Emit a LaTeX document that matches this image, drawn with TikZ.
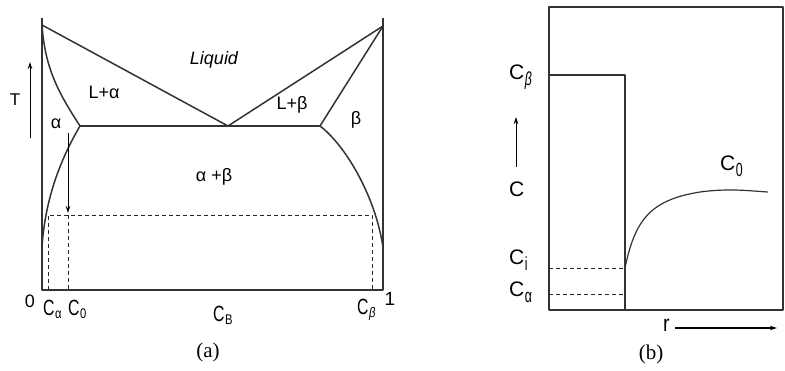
\documentclass[tikz,border=0pt]{standalone}
\usepackage{fontspec}
\setmainfont{Liberation Sans}
\newfontfamily\serifcap{Liberation Serif}
\usepackage{graphicx}
\usetikzlibrary{arrows.meta}
\newcommand{\Cna}[1]{\scalebox{0.72}[1]{C}\kern0.6pt\raisebox{-3pt}{\fontsize{14}{14}\selectfont\scalebox{0.8}[1]{#1}}}
\newcommand{\Cnb}[1]{C\kern0.6pt\raisebox{-6pt}{\fontsize{19}{19}\selectfont\scalebox{0.65}[1]{#1}}}
\begin{document}
\begin{tikzpicture}[x=1pt,y=-1pt,line join=round,
  main/.style={line width=1.5pt,draw=black!80},
  dashline/.style={line width=0.8pt,dash pattern=on 4pt off 3pt,draw=black!85},
  lbl/.style={inner sep=0pt,font=\fontsize{18}{18}\selectfont},
  cla/.style={inner sep=0pt,anchor=base west,font=\fontsize{22}{22}\selectfont},
  clb/.style={inner sep=0pt,anchor=base west,font=\fontsize{21}{21}\selectfont},
  captxt/.style={inner sep=0pt,font=\fontsize{21}{21}\selectfont\serifcap},
  arr/.style={line width=0.9pt,draw=black,-{Stealth[length=7pt,width=4.5pt]}}]
\useasboundingbox (0,0) rectangle (785,371);
% ---------- panel (a) ----------
\coordinate (aTL) at (42,18);
\coordinate (aBL) at (42,290);
\coordinate (aBR) at (383,290);
\coordinate (aTR) at (383,18);
\coordinate (mA) at (42,25);
\coordinate (mB) at (383,26);
\coordinate (E) at (228,126);
\coordinate (aE) at (80,126);
\coordinate (bE) at (320,126);
\coordinate (sa) at (42,247);
\coordinate (sb) at (383,247);
\draw[main] (aTL) -- (aBL) -- (aBR) -- (aTR);
\draw[main] (mA) -- (E) -- (mB);
\draw[main] (aE) -- (bE);
\draw[main] (mA) .. controls (45,70) and (60,95) .. (aE)
                 .. controls (60,160) and (45,200) .. (sa);
\draw[main] (mB) -- (bE) .. controls (345,145) and (375,195) .. (sb);
\coordinate (d1b) at (48,290);
\coordinate (d1t) at (48,215);
\coordinate (d2b) at (68,290);
\coordinate (d2t) at (68,215);
\coordinate (d3t) at (372,215);
\coordinate (d3b) at (372,290);
\draw[dashline] (d1b) -- (d1t) -- (d3t) -- (d3b);
\draw[dashline] (d2t) -- (d2b);
\coordinate (cool0) at (68,133);
\coordinate (cool1) at (68,213);
\draw[arr] (cool0) -- (cool1);
\coordinate (Tb) at (30,138);
\coordinate (Tt) at (30,62);
\draw[arr] (Tb) -- (Tt);
\node[lbl,font=\fontsize{17}{17}\selectfont] (T) at (15,100) {T};
\node[lbl,font=\fontsize{18}{18}\selectfont\itshape] (liq) at (214,60) {Liquid};
\node[lbl] (La) at (104,92) {L+α};
\node[lbl] (Lb) at (292,105) {L+β};
\node[lbl] (beta) at (356,120) {β};
\node[lbl] (alpha) at (56,124) {α};
\node[lbl] (ab) at (214,177) {α +β};
\node[lbl,font=\fontsize{18}{18}\selectfont] (zero) at (30,301) {0};
\node[lbl,font=\fontsize{19}{19}\selectfont] (one) at (390,299) {1};
\node[cla] (Caa) at (43,316) {\Cna{α}};
\node[cla] (C0a) at (68,316) {\Cna{0}};
\node[cla] (CBa) at (213,322) {\Cna{B}};
\node[cla] (Cba) at (357,315) {\Cna{\itshape β}};
\node[captxt] (capa) at (208,352) {(a)};
% ---------- panel (b) ----------
\coordinate (bBL) at (549,310);
\coordinate (bTL) at (549,7);
\coordinate (bTR) at (783,7);
\coordinate (bBR) at (783,310);
\coordinate (pTL) at (549,75);
\coordinate (pTR) at (625,75);
\coordinate (pBR) at (625,310);
\draw[main] (bBL) -- (bTL) -- (bTR) -- (bBR) -- cycle;
\draw[main] (pTL) -- (pTR) -- (pBR);
\coordinate (ci0) at (549,268);
\coordinate (ci1) at (625,268);
\coordinate (ca0) at (549,294);
\coordinate (ca1) at (625,294);
\draw[dashline] (ci0) -- (ci1);
\draw[dashline] (ca0) -- (ca1);
\coordinate (k1) at (700,192);
\coordinate (k2) at (768,192);
\draw[main,line width=1.2pt] (ci1) .. controls (635,220) and (650,200) .. (k1)
                 .. controls (730,188) and (750,191) .. (k2);
\node[clb] (Cbb) at (509,80) {\Cnb{\itshape β}};
\node[clb] (Cb) at (509,197) {C};
\node[clb] (Cib) at (509,265) {\Cnb{i}};
\node[clb] (Cab) at (509,297) {\Cnb{α}};
\node[clb] (C0b) at (720,171) {\Cnb{0}};
\coordinate (Cu0) at (516,167);
\coordinate (Cu1) at (516,117);
\draw[arr] (Cu0) -- (Cu1);
\node[clb,font=\fontsize{23}{23}\selectfont] (r) at (663,332) {\scalebox{0.85}[1]{r}};
\coordinate (rs) at (675,328);
\coordinate (re) at (777,328);
\draw[arr,line width=1.3pt] (rs) -- (re);
\node[captxt] (capb) at (651,354) {(b)};
\end{tikzpicture}
\end{document}
